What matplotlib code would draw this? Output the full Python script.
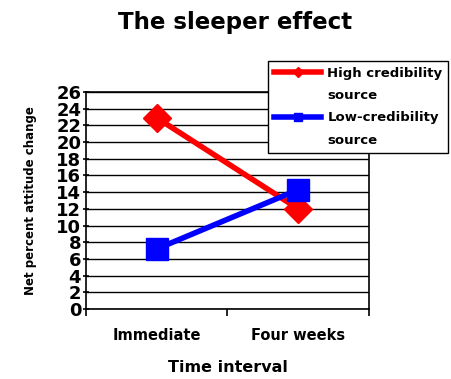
import matplotlib.pyplot as plt
from matplotlib.lines import Line2D

intervals = ['Immediate', 'Four weeks']
high_cred = [22.9, 12]
low_cred = [7.2, 14.3]
y_ticks = list(range(0, 27, 2))

fig = plt.figure(figsize=(4.52, 3.79), dpi=100)
ax = fig.add_axes([86 / 452, 1 - 309 / 379, 283 / 452, 217 / 379])

xpos = [0.5, 1.5]
h1, = ax.plot(xpos, high_cred, color='#ff0000', lw=4, marker='D', ms=14)
h2, = ax.plot(xpos, low_cred, color='#0000ff', lw=4, marker='s', ms=16)

ax.set_xlim(0, 2)
ax.set_ylim(0, 26)
ax.set_yticks(y_ticks)
ax.set_yticklabels([str(v) for v in y_ticks], fontsize=13, fontweight='bold')
ax.set_xticks([0, 1, 2])
ax.set_xticklabels([])
ax.set_xticks(xpos, minor=True)
ax.set_xticklabels(intervals, minor=True, fontsize=10.5, fontweight='bold')
ax.tick_params(axis='x', which='minor', length=0, pad=14)
ax.tick_params(axis='x', which='major', length=5, width=1.2, direction='out')
ax.tick_params(axis='y', length=5, width=1.2, direction='inout', pad=1)
ax.yaxis.grid(True, color='black', lw=1)
ax.set_axisbelow(True)
for s in ax.spines.values():
    s.set_linewidth(1.2)

ax.set_ylabel('Net percent attitude change', fontsize=8.5, fontweight='bold', labelpad=14)
ax.set_xlabel('Time interval', fontsize=11.5, fontweight='bold', labelpad=12)
fig.text(0.52, 0.94, 'The sleeper effect', ha='center', va='center',
         fontsize=16.5, fontweight='bold')

# second line of each label as its own row with a blank handle
blank = Line2D([], [], color='none')
leg = fig.legend([h1, blank, h2, blank],
                 ['High credibility', 'source', 'Low-credibility', 'source'],
                 loc='upper left', bbox_to_anchor=(268 / 452, 1 - 61 / 379),
                 prop={'weight': 'bold', 'size': 9.5}, fancybox=False,
                 edgecolor='black', framealpha=1, markerscale=0.35,
                 handlelength=3.6, labelspacing=0.7, borderpad=0.45,
                 handletextpad=0.45, borderaxespad=0)
leg.get_frame().set_linewidth(1)

fig.savefig('out.png', dpi=100)
